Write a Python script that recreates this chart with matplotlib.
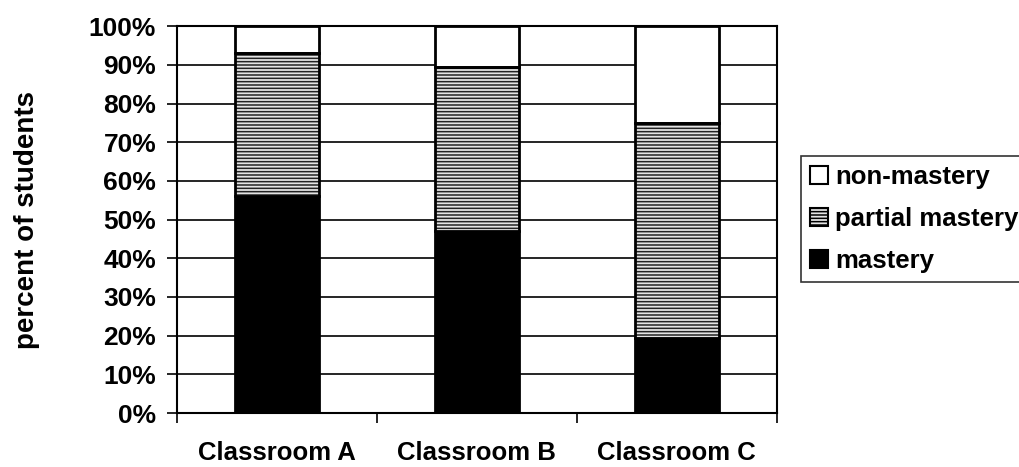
import matplotlib
matplotlib.use("Agg")
import matplotlib.pyplot as plt
from matplotlib.patches import Patch
import numpy as np

plt.rcParams["font.family"] = ["Liberation Sans", "DejaVu Sans"]
plt.rcParams["font.weight"] = "bold"
plt.rcParams["hatch.linewidth"] = 1.1

classrooms = ["Classroom A", "Classroom B", "Classroom C"]
mastery = [56, 47, 19.5]
partial = [37, 42.5, 55.5]
non_mastery = [7, 10.5, 25]

fig = plt.figure(figsize=(10.2, 4.67), dpi=100)
ax = fig.add_axes([0.1735, 0.1156, 0.588, 0.8284])

x = np.arange(len(classrooms))
width = 0.42
bottom_partial = np.array(mastery)
bottom_non = bottom_partial + np.array(partial)

ax.bar(x, mastery, width, color="black", edgecolor="black", linewidth=2,
       zorder=3)
ax.bar(x, partial, width, bottom=bottom_partial, color="#e4e4e4",
       edgecolor="#222222", hatch="-----", linewidth=0, zorder=3)
ax.bar(x, partial, width, bottom=bottom_partial, fill=False,
       edgecolor="black", linewidth=2, zorder=4)
ax.bar(x, non_mastery, width, bottom=bottom_non, color="white",
       edgecolor="black", linewidth=2, zorder=3)

ax.set_xlim(-0.5, 2.5)
ax.set_ylim(0, 100)
ax.set_yticks(np.arange(0, 101, 10))
ax.set_yticklabels([f"{v}%" for v in range(0, 101, 10)],
                   fontsize=19, fontweight="bold")
ax.grid(axis="y", color="black", linewidth=1.2, zorder=0)

ax.set_xticks(x)
ax.set_xticklabels(classrooms, fontsize=18.5, fontweight="bold")
ax.tick_params(axis="x", which="major", length=0, pad=20)
ax.set_xticks(np.arange(-0.5, 3.0, 1.0), minor=True)
ax.tick_params(axis="x", which="minor", length=7, width=1.2, direction="out")
ax.tick_params(axis="y", length=7, width=1.2, direction="out", pad=8)

for side in ax.spines.values():
    side.set_linewidth(1.5)
    side.set_color("black")

ax.set_ylabel("percent of students", fontsize=20, fontweight="bold")
ax.yaxis.set_label_coords(-0.228, 0.5)

handles = [
    Patch(facecolor="white", edgecolor="black", linewidth=1.5),
    Patch(facecolor="#e4e4e4", edgecolor="black", hatch="-----",
          linewidth=1.5),
    Patch(facecolor="black", edgecolor="black", linewidth=1.5),
]
labels = ["non-mastery", "partial mastery", "mastery"]
leg = fig.legend(handles, labels, loc="upper left",
                 bbox_to_anchor=(0.785, 0.666),
                 prop={"size": 18.5, "weight": "bold"},
                 frameon=True, fancybox=False, edgecolor="black",
                 handlelength=0.7, handleheight=0.7, handletextpad=0.3,
                 borderpad=0.35, labelspacing=0.7, borderaxespad=0)
leg.get_frame().set_linewidth(1.2)

fig.savefig("out.png", dpi=100)
